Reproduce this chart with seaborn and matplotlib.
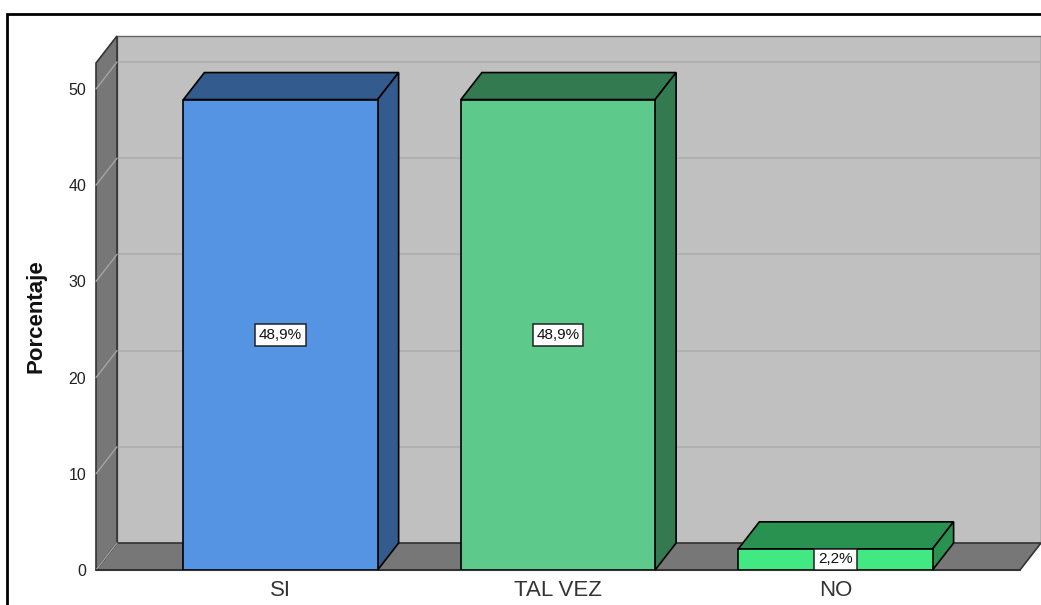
import matplotlib
matplotlib.use("Agg")
import matplotlib.pyplot as plt
import seaborn as sns
from matplotlib.patches import Polygon, Rectangle

# ---- data ----
categories = ["SI", "TAL VEZ", "NO"]
percentages = [48.9, 48.9, 2.2]
y_ticks = [0, 10, 20, 30, 40, 50]

# ---- style ----
front_colors = ["#5594E3", "#5DCA8B", "#42E882"]
depth_colors = ["#335B8D", "#347A51", "#2A9250"]
wall_color = "#C0C0C0"
floor_color = "#777777"

sns.set_style("white")
plt.rcParams["font.family"] = ["Liberation Sans", "DejaVu Sans"]

W, H, DPI = 1041, 605, 100
fig = plt.figure(figsize=(W / DPI, H / DPI), dpi=DPI)
ax_l, ax_b, ax_w, ax_h = 96, 35, 924, 507
ax = fig.add_axes([ax_l / W, ax_b / H, ax_w / W, ax_h / H])

sns.barplot(x=categories, y=percentages, hue=categories, palette=front_colors,
            width=0.70, edgecolor="black", linewidth=1.2, legend=False,
            saturation=1, ax=ax)

xmin, xmax = -0.665, 2.665
ymin, ymax = 0, 52.7
ax.set_xlim(xmin, xmax)
ax.set_ylim(ymin, ymax)

# depth offset in data units (21 px right, 27 px up)
dx = 21 / ax_w * (xmax - xmin)
dy = 27 / ax_h * (ymax - ymin)

# back wall
ax.add_patch(Polygon([(xmin + dx, dy), (xmax + dx, dy), (xmax + dx, ymax + dy),
                      (xmin + dx, ymax + dy)], closed=True, fc=wall_color,
                     ec="#666666", lw=1, zorder=0.1, clip_on=False))
# floor
ax.add_patch(Polygon([(xmin, 0), (xmax, 0), (xmax + dx, dy), (xmin + dx, dy)],
                     closed=True, fc=floor_color, ec="#333333", lw=1.2,
                     zorder=0.3, clip_on=False))
# left side wall
ax.add_patch(Polygon([(xmin, 0), (xmin, ymax), (xmin + dx, ymax + dy), (xmin + dx, dy)],
                     closed=True, fc=floor_color, ec="#333333", lw=1.2,
                     zorder=0.3, clip_on=False))
# grid lines on back wall and side wall
for t in y_ticks:
    if t > 0:
        ax.plot([xmin + dx, xmax + dx], [t + dy, t + dy], color="#AFAFAF",
                lw=1.3, zorder=0.2, clip_on=False)
    ax.plot([xmin, xmin + dx], [t, t + dy], color="#A5A5A5", lw=1.0,
            zorder=0.4, clip_on=False)
# front floor edge
ax.plot([xmin, xmax], [0, 0], color="#333333", lw=1.5, zorder=0.5, clip_on=False)

# 3D faces of bars
bars = [p for p in ax.patches if isinstance(p, Rectangle)]
for bar, dc, v in zip(bars, depth_colors, percentages):
    x0 = bar.get_x()
    x1 = x0 + bar.get_width()
    h = bar.get_height()
    bar.set_zorder(3)
    ax.add_patch(Polygon([(x0, h), (x1, h), (x1 + dx, h + dy), (x0 + dx, h + dy)],
                         closed=True, fc=dc, ec="black", lw=1.2, zorder=2.5,
                         clip_on=False))
    ax.add_patch(Polygon([(x1, 0), (x1, h), (x1 + dx, h + dy), (x1 + dx, dy)],
                         closed=True, fc=dc, ec="black", lw=1.2, zorder=2.5,
                         clip_on=False))
    ax.text(x0 + bar.get_width() / 2, h / 2, f"{v:.1f}".replace(".", ",") + "%",
            ha="center", va="center", fontsize=11, color="#111111", zorder=5,
            bbox=dict(boxstyle="square,pad=0.25", fc="white", ec="#222222", lw=1.1))

for s in ax.spines.values():
    s.set_visible(False)
ax.set_facecolor("none")
ax.set_yticks(y_ticks)
ax.tick_params(axis="both", length=0)
ax.tick_params(axis="y", pad=7, labelsize=11.5, labelcolor="#222222")
ax.tick_params(axis="x", pad=7, labelsize=16, labelcolor="#333333")
ax.set_xlabel("")
ax.set_ylabel("Porcentaje", fontsize=16, fontweight="bold", color="#111111")
ax.yaxis.set_label_coords(-0.054, 0.5)

# outer frame
fig.add_artist(Rectangle((7 / W, -0.1), 1.2, 1 - 14 / H + 0.1, transform=fig.transFigure,
                         fill=False, ec="black", lw=2))

fig.savefig("out.png", dpi=DPI)
